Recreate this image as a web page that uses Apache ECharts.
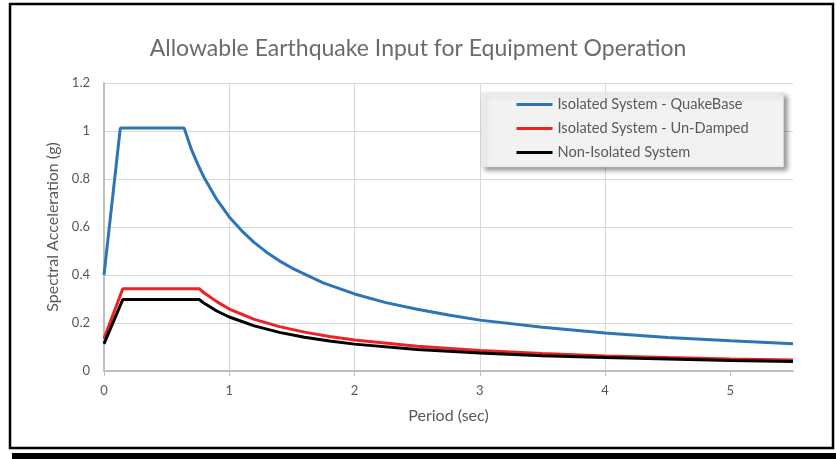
<!DOCTYPE html>
<html>
<head>
<meta charset="utf-8">
<script src="https://cdn.jsdelivr.net/npm/echarts@6/dist/echarts.min.js"></script>
<style>
html,body{margin:0;padding:0;background:#fff;}
#c{width:836px;height:459px;}
</style>
</head>
<body>
<div id="c"></div>
<script>
var chartTitle = 'Allowable Earthquake Input for Equipment Operation';
var xAxisName = 'Period (sec)';
var yAxisName = 'Spectral Acceleration (g)';
var seriesNames = ['Isolated System - QuakeBase', 'Isolated System - Un-Damped', 'Non-Isolated System'];
var xTickValues = [0, 1, 2, 3, 4, 5];

var quakeBasePeriod = [0, 0.13, 0.64, 0.7, 0.75, 0.8, 0.9, 1.0, 1.1, 1.2, 1.3, 1.4, 1.5, 1.75, 2.0, 2.25, 2.5, 2.75, 3.0, 3.5, 4.0, 4.5, 5.0, 5.5];
var quakeBaseSa     = [0.40, 1.012, 1.012, 0.92, 0.86, 0.805, 0.715, 0.642, 0.584, 0.535, 0.494, 0.459, 0.429, 0.367, 0.321, 0.285, 0.257, 0.233, 0.212, 0.182, 0.158, 0.140, 0.126, 0.114];

var unDampedPeriod = [0, 0.15, 0.76, 0.8, 0.9, 1.0, 1.2, 1.4, 1.6, 1.8, 2.0, 2.5, 3.0, 3.5, 4.0, 4.5, 5.0, 5.5];
var unDampedSa     = [0.135, 0.343, 0.343, 0.325, 0.289, 0.258, 0.215, 0.185, 0.162, 0.144, 0.129, 0.103, 0.085, 0.073, 0.063, 0.056, 0.050, 0.046];

var nonIsoPeriod = [0, 0.15, 0.76, 0.8, 0.9, 1.0, 1.2, 1.4, 1.6, 1.8, 2.0, 2.5, 3.0, 3.5, 4.0, 4.5, 5.0, 5.5];
var nonIsoSa     = [0.113, 0.298, 0.298, 0.282, 0.250, 0.225, 0.188, 0.161, 0.141, 0.125, 0.112, 0.090, 0.075, 0.064, 0.056, 0.050, 0.044, 0.040];

function pairs(xs, ys) { return xs.map(function (x, i) { return [x, ys[i]]; }); }

var gray = '#595959';
var font = 'Lato';
var chart = echarts.init(document.getElementById('c'), null, {renderer: 'canvas'});
chart.setOption({
  animation: false,
  backgroundColor: '#fff',
  textStyle: {fontFamily: font},
  graphic: [
    {type: 'rect', z: -10, shape: {x: 12, y: 453, width: 830, height: 10}, style: {fill: '#000'}},
    {type: 'rect', z: -9, shape: {x: 10, y: 4, width: 823, height: 444}, style: {fill: '#fff', stroke: '#000', lineWidth: 2.5}}
  ],
  title: {
    text: chartTitle, left: 'center', top: 32,
    textStyle: {color: '#6b6b6b', fontSize: 23, fontWeight: 'normal', fontFamily: font}
  },
  legend: {
    orient: 'vertical', left: 482, top: 93,
    padding: [4, 35, 7, 33], itemGap: 9, itemWidth: 36, itemHeight: 14,
    backgroundColor: '#f2f2f2', borderColor: '#d9d9d9', borderWidth: 0.5,
    shadowColor: 'rgba(0,0,0,0.45)', shadowBlur: 5, shadowOffsetX: 3, shadowOffsetY: 3,
    itemStyle: {opacity: 0},
    lineStyle: {width: 3},
    textStyle: {color: gray, fontSize: 14.6, fontFamily: font},
    data: seriesNames
  },
  grid: {left: 104, right: 43, top: 83, bottom: 88},
  xAxis: {
    type: 'value', min: 0, max: 5.5, interval: 1,
    name: xAxisName, nameLocation: 'middle', nameGap: 37,
    nameTextStyle: {color: gray, fontSize: 16, fontFamily: font},
    axisLine: {lineStyle: {color: '#bfbfbf', width: 2}},
    axisTick: {show: true, length: 5, lineStyle: {color: '#bfbfbf', width: 1}, customValues: xTickValues},
    axisLabel: {color: gray, fontSize: 13, margin: 13, customValues: xTickValues, fontFamily: font},
    splitLine: {show: true, showMaxLine: false, lineStyle: {color: '#d9d9d9', width: 1}}
  },
  yAxis: {
    type: 'value', min: 0, max: 1.2, interval: 0.2,
    name: yAxisName, nameLocation: 'middle', nameGap: 41, nameRotate: 90,
    nameTextStyle: {color: gray, fontSize: 16, fontFamily: font},
    axisLine: {show: true, lineStyle: {color: '#bfbfbf', width: 2}},
    axisTick: {show: false},
    axisLabel: {color: gray, fontSize: 13, margin: 14, fontFamily: font,
      formatter: function (v) { return String(Math.round(v * 10) / 10); }},
    splitLine: {show: true, lineStyle: {color: '#d9d9d9', width: 1}}
  },
  series: [
    {name: seriesNames[0], type: 'line', symbol: 'none', data: pairs(quakeBasePeriod, quakeBaseSa),
      lineStyle: {color: '#2e75b6', width: 3}, itemStyle: {color: '#2e75b6'}, z: 3},
    {name: seriesNames[1], type: 'line', symbol: 'none', data: pairs(unDampedPeriod, unDampedSa),
      lineStyle: {color: '#ee2222', width: 3}, itemStyle: {color: '#ee2222'}, z: 2},
    {name: seriesNames[2], type: 'line', symbol: 'none', data: pairs(nonIsoPeriod, nonIsoSa),
      lineStyle: {color: '#000000', width: 3}, itemStyle: {color: '#000000'}, z: 4}
  ]
});
</script>
</body>
</html>
